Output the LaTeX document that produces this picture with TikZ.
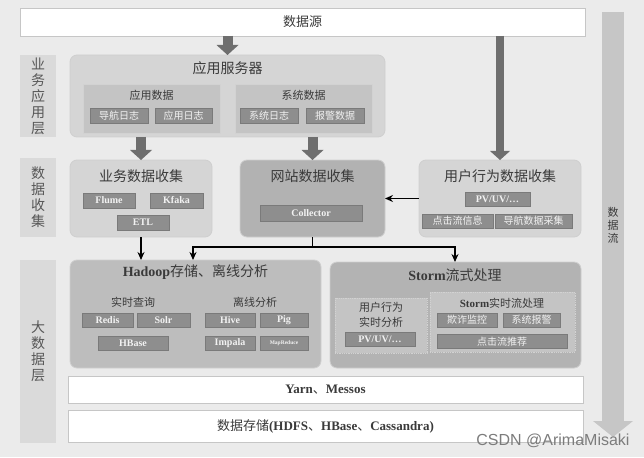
\documentclass[tikz,border=0pt]{standalone}
\usepackage{fontspec}
\setmainfont{Liberation Serif}
\newfontfamily\cjk{Noto Sans CJK SC}
\newfontfamily\wmfont{Liberation Sans}
\usetikzlibrary{arrows.meta}
\newcommand\eng[1]{{\rmfamily\bfseries #1}}

\definecolor{bgcol}{HTML}{EBEBEB}
\definecolor{plainline}{HTML}{C6C6C6}
\definecolor{layerfill}{HTML}{DADADA}
\definecolor{groupfill}{HTML}{D5D5D5}
\definecolor{groupline}{HTML}{CFCFCF}
\definecolor{webfill}{HTML}{B2B2B2}
\definecolor{hadfill}{HTML}{BDBDBD}
\definecolor{stormfill}{HTML}{B3B3B3}
\definecolor{subfill}{HTML}{C4C4C4}
\definecolor{subline}{HTML}{D2D2D2}
\definecolor{tagfill}{HTML}{8E8E8E}
\definecolor{tagline}{HTML}{7A7A7A}
\definecolor{tagtext}{HTML}{F2F2F2}
\definecolor{titletext}{HTML}{3A3A3A}
\definecolor{arrowgray}{HTML}{6E6E6E}
\definecolor{flowgray}{HTML}{C6C6C6}
\definecolor{wmgray}{HTML}{7C7C7C}

\tikzset{
  every node/.style={inner sep=0pt, outer sep=0pt, text=titletext},
  sz/.style 2 args={minimum width=#1pt, minimum height=#2pt},
  plainbox/.style={draw=plainline, fill=white, line width=0.8pt,
    font=\cjk\fontsize{13}{15}\selectfont},
  layerbox/.style={fill=layerfill, align=center, text=titletext!85,
    font=\cjk\fontsize{14}{16}\selectfont},
  groupbox/.style={draw=groupline, fill=groupfill, rounded corners=7pt, line width=0.8pt},
  subbox/.style={draw=subline, fill=subfill, line width=0.8pt},
  stormsub/.style={draw=subline, fill=subfill, densely dotted, line width=0.8pt},
  tagbox/.style={draw=tagline, fill=tagfill, text=tagtext, line width=0.6pt,
    font=\cjk\fontsize{10}{11}\selectfont},
  titletxt/.style={font=\cjk\fontsize{14}{16}\selectfont},
  labeltxt/.style={font=\cjk\fontsize{11}{15}\selectfont, align=center},
  blockarrow/.style={draw=arrowgray, line width=10pt,
    -{Triangle[width=22pt, length=10pt, line width=0pt]}},
  slimarrow/.style={draw=arrowgray, line width=8pt,
    -{Triangle[width=20pt, length=9pt, line width=0pt]}},
  flowbar/.style={draw=flowgray, line width=22pt,
    -{Triangle[width=40pt, length=16pt, line width=0pt]}},
  flowline/.style={draw=black, line width=1.6pt},
  flowarrow/.style={flowline, -{Stealth[length=8pt, width=7pt]}},
}

\begin{document}
\begin{tikzpicture}[x=1pt, y=-1pt]
  \fill[bgcol] (0,0) rectangle (644,457);
  \useasboundingbox (0,0) rectangle (644,457);

  % source and layer labels
  \node[plainbox, sz={565}{28}] (src) at (302.5,22) {数据源};
  \node[layerbox, sz={36}{82}] (lyrapp) at (38,96) {业\\务\\应\\用\\层};
  \node[layerbox, sz={36}{79}] (lyrcol) at (38,197.5) {数\\据\\收\\集};
  \node[layerbox, sz={36}{183}] (lyrbig) at (38,351.5) {大\\数\\据\\层};

  % data flow bar
  \coordinate (flowtop) at (613,12);
  \coordinate (flowbot) at (613,437);
  \draw[flowbar] (flowtop) -- (flowbot);
  \node[labeltxt, font=\cjk\fontsize{11}{13}\selectfont] (flowlbl) at (613,225) {数\\据\\流};

  % application servers
  \node[groupbox, sz={315}{82}] (appsrv) at (227.5,96) {};
  \node[titletxt] (appsrvt) at (227.5,68) {应用服务器};
  \node[subbox, sz={137}{49}] (appdata) at (151.5,108.5) {};
  \node[labeltxt] (appdatat) at (151.5,95) {应用数据};
  \node[tagbox, sz={58}{15}] (navlog) at (119,116) {导航日志};
  \node[tagbox, sz={57}{15}] (applog) at (183.5,116) {应用日志};
  \node[subbox, sz={137}{49}] (sysdata) at (303.5,108.5) {};
  \node[labeltxt] (sysdatat) at (303.5,95) {系统数据};
  \node[tagbox, sz={58}{15}] (syslog) at (269,116) {系统日志};
  \node[tagbox, sz={58}{15}] (alarmdata) at (335,116) {报警数据};

  % collection
  \node[groupbox, sz={142}{77}] (buscol) at (141,198.5) {};
  \node[titletxt] (buscolt) at (141,176) {业务数据收集};
  \node[tagbox, sz={52}{15}] (flume) at (109,200.5) {\eng{Flume}};
  \node[tagbox, sz={53}{15}] (kfaka) at (176.5,200.5) {\eng{Kfaka}};
  \node[tagbox, sz={52}{15}] (etl) at (143,222.5) {\eng{ETL}};
  \node[groupbox, fill=webfill, sz={145}{77}] (webcol) at (312.5,198.5) {};
  \node[titletxt] (webcolt) at (312.5,176) {网站数据收集};
  \node[tagbox, sz={102}{16}] (collector) at (311,213) {\eng{Collector}};
  \node[groupbox, sz={162}{77}] (ubcol) at (500,198.5) {};
  \node[titletxt] (ubcolt) at (500,176) {用户行为数据收集};
  \node[tagbox, sz={65}{14}] (pvuv) at (497.5,199) {\eng{PV/UV/\ldots}};
  \node[tagbox, sz={71}{14}] (clickinfo) at (457.5,221) {点击流信息};
  \node[tagbox, sz={77}{14}] (navcollect) at (533.5,221) {导航数据采集};

  % hadoop
  \node[groupbox, fill=hadfill, sz={251}{108}] (hadoop) at (195.5,314) {};
  \node[titletxt] (hadoopt) at (195.5,272) {\eng{Hadoop}存储、离线分析};
  \node[labeltxt] (rtquery) at (133,302) {实时查询};
  \node[tagbox, sz={51}{14}] (redis) at (107.5,320) {\eng{Redis}};
  \node[tagbox, sz={53}{14}] (solr) at (163.5,320) {\eng{Solr}};
  \node[tagbox, sz={70}{14}] (hbase) at (133,343.5) {\eng{HBase}};
  \node[labeltxt] (offline) at (255,302) {离线分析};
  \node[tagbox, sz={50}{14}] (hive) at (230,320) {\eng{Hive}};
  \node[tagbox, sz={48}{14}] (pig) at (284,320) {\eng{Pig}};
  \node[tagbox, sz={50}{14}] (impala) at (230,343.5) {\eng{Impala}};
  \node[tagbox, sz={48}{14}, font=\rmfamily\bfseries\fontsize{5.5}{6}\selectfont] (mapred) at (284,343.5) {MapReduce};

  % storm
  \node[groupbox, fill=stormfill, sz={251}{106}] (storm) at (455.5,315) {};
  \node[titletxt] (stormt) at (455,275) {\eng{Storm}流式处理};
  \node[stormsub, sz={92}{55}] (ubana) at (381,325.5) {};
  \node[labeltxt] (ubanat) at (381,314.5) {用户行为\\实时分析};
  \node[tagbox, sz={70}{14}] (pvuvrt) at (380,339) {\eng{PV/UV/\ldots}};
  \node[stormsub, sz={145}{60}] (stormrt) at (502.5,322) {};
  \node[labeltxt] (stormrtt) at (502,303) {\eng{Storm}实时流处理};
  \node[tagbox, sz={60}{14}] (fraud) at (467,320) {欺诈监控};
  \node[tagbox, sz={57}{14}] (sysalarm) at (531.5,320) {系统报警};
  \node[tagbox, sz={130}{14}] (clickrec) at (502,341.5) {点击流推荐};

  % resource and storage
  \node[plainbox, sz={515}{27}] (yarn) at (325.5,389.5) {\eng{Yarn}、\eng{Messos}};
  \node[plainbox, sz={515}{32}] (hdfs) at (325.5,426) {数据存储\eng{(HDFS}、\eng{HBase}、\eng{Cassandra)}};

  % arrows
  \draw[blockarrow] (src.south -| appsrv.north) -- (appsrv.north);
  \draw[slimarrow] (src.south -| ubcol.north) -- (ubcol.north);
  \draw[blockarrow] (appsrv.south -| buscol.north) -- (buscol.north);
  \draw[blockarrow] (appsrv.south -| webcol.north) -- (webcol.north);
  \draw[flowarrow] (ubcol.west) -- (webcol.east);
  \draw[flowarrow] (buscol.south) -- (buscol.south |- hadoop.north);
  \coordinate (fork) at (312.5,247);
  \coordinate (forkl) at (193,247);
  \coordinate (forkr) at (455,247);
  \draw[flowline] (webcol.south) -- (fork);
  \draw[flowarrow] (fork) -- (forkl) -- (forkl |- hadoop.north);
  \draw[flowarrow] (fork) -- (forkr) -- (forkr |- storm.north);

  \node[font=\wmfont\fontsize{16}{18}\selectfont, text=wmgray] (wmark) at (553,441) {CSDN @ArimaMisaki};
\end{tikzpicture}
\end{document}
